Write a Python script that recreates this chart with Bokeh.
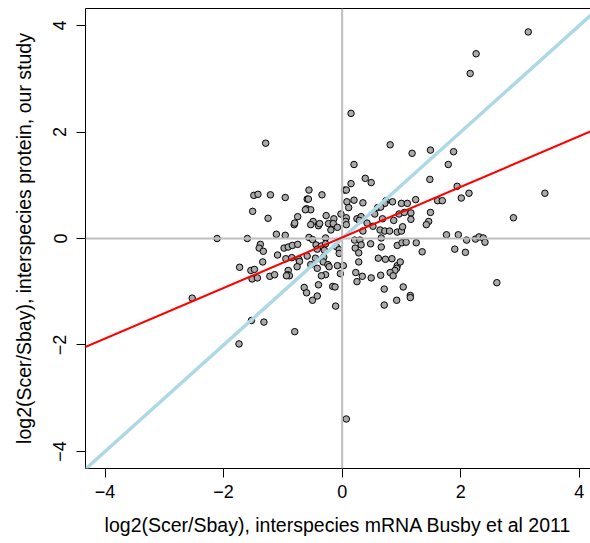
from bokeh.plotting import figure
from bokeh.models import Range1d, Span, Slope, FixedTicker, LinearAxis
from bokeh.embed import file_html
from bokeh.resources import INLINE

# interspecies mRNA log2 ratio (Busby et al 2011) and protein log2 ratio (our study)
mrna = [0.15, 3.14, 2.26, 2.16, 3.42, 2.89, 2.61, 0.07, -2.53, -2.11, -1.74, -1.29,
        -1.49, -1.42, -1.21, -0.96, -1.51, -1.25, -0.81, -0.80, -0.75, -1.60, -1.11, -0.96,
        -1.38, -1.40, -1.33, -0.98, -0.91, -0.84, -0.75, -1.09, -0.95, -0.85, -1.34, -0.73,
        -0.72, -1.73, -1.54, -1.48, -0.76, -0.91, -0.92, -0.89, -0.94, -1.52, -1.43, -1.22,
        -1.14, -1.53, -1.32, -0.80,
        -0.56, -0.50, -0.28, -0.44, -0.35, -0.28, -0.10, -0.05, -0.42, -0.30, 0.21, 0.30,
        0.22, 0.28, 0.32, 0.48, 0.66, 0.66, 0.93, 1.01, -0.59, -0.45, -0.31, -0.05,
        -0.32, -0.24, -0.22, -0.53, -0.42, -0.08, 0.02, 0.28, 0.61, 0.73, 0.84, 0.93,
        0.92, 0.89, 0.81, 0.86, -0.28, -0.35, -0.03, 0.23, 0.34, 0.49, 0.65, 0.25,
        1.03, -0.64, -0.60, -0.40, -0.16, -0.12, -0.42, -0.50, 0.71, 0.92, 0.71, -0.11,
        0.81, 0.20, 0.39, 0.49, 0.15, -0.56, 0.04, 0.07, -0.34, -0.59, -0.57, 0.08,
        0.20, 0.35, 0.74, 0.85, 1.00, 0.72, 0.11, 0.60, 0.65, -0.60, -0.53, -0.62,
        -0.27, -0.14, -0.02, 0.07, 0.25, 0.32, 0.55, 0.96, 1.05, -0.49, -0.40, -0.38,
        -0.23, -0.15, 0.06, 0.29, 0.42, 0.68, 0.87, -0.53, -0.19, -0.08, 0.07, 0.52,
        0.64, 0.72, 0.80, 0.93, 1.00, 0.35,
        1.18, 1.49, 1.88, 1.79, 1.48, 1.94, 2.14, 2.01, 1.61, 1.69, 1.24, 1.10,
        1.16, 1.16, 1.49, 1.46, 1.42, 1.02, 1.76, 1.96, 2.10, 2.25, 2.31, 2.38,
        2.41, 1.08, 1.25, 1.35, 1.90, 2.08, 0.98, 1.15, 1.15]
protein = [2.35, 3.88, 3.47, 3.10, 0.85, 0.39, -0.83, -3.39, -1.12, 0.00, -1.98, 1.79,
           0.81, 0.83, 0.82, 0.77, 0.51, 0.38, 0.26, 0.29, 0.41, 0.00, 0.08, 0.06,
           -0.11, -0.18, -0.24, -0.18, -0.16, -0.13, -0.11, -0.31, -0.38, -0.36, -0.44, -0.39,
           -0.43, -0.54, -0.60, -0.58, -0.53, -0.60, -0.68, -0.70, -0.70, -0.76, -0.74, -0.71,
           -0.68, -1.54, -1.57, -1.75,
           0.02, -0.02, 0.01, -0.12, -0.14, -0.10, -0.15, -0.21, -0.20, -0.22, -0.03, -0.03,
           -0.18, -0.27, -0.12, -0.10, 0.01, -0.16, -0.13, -0.08, -0.33, -0.37, -0.35, -0.28,
           -0.44, -0.49, -0.53, -0.49, -0.56, -0.51, -0.51, -0.44, -0.37, -0.39, -0.38, -0.51,
           -0.56, -0.60, -0.64, -0.70, -0.68, -0.70, -0.66, -0.64, -0.71, -0.74, -0.69, -0.81,
           -0.91, -0.92, -1.02, -0.87, -0.90, -0.91, -1.08, -1.16, -0.95, -1.16, -1.25, -1.27,
           1.76, 1.39, 1.13, 1.05, 1.03, 0.91, 0.91, 0.91, 0.82, 0.74, 0.74, 0.69,
           0.72, 0.67, 0.71, 0.69, 0.66, 0.66, 0.58, 0.58, 0.59, 0.56, 0.54, 0.54,
           0.43, 0.37, 0.46, 0.39, 0.37, 0.41, 0.46, 0.46, 0.49, 0.32, 0.24, 0.28,
           0.28, 0.28, 0.32, 0.34, 0.29, 0.37, 0.34, 0.26, 0.16, 0.21, 0.26, 0.23,
           0.16, 0.14, 0.14, 0.12, 0.14, 0.14,
           1.60, 1.66, 1.63, 1.39, 1.11, 0.98, 0.85, 0.76, 0.71, 0.71, 0.73, 0.66,
           0.48, 0.36, 0.49, 0.32, 0.26, 0.22, 0.07, 0.07, -0.03, -0.01, 0.03, 0.01,
           -0.07, -0.07, -0.08, -0.25, -0.20, -0.26, -0.44, -1.07, -1.11]

# fitted regression line (protein ~ mRNA)
fit_intercept = 0.02
fit_slope = 0.475

x_ticks = [-4, -2, 0, 2, 4]
y_ticks = [-4, -2, 0, 2, 4]
tick_labels = {-4: "\u22124", -2: "\u22122", 0: "0", 2: "2", 4: "4"}

FONT = "Liberation Sans"

p = figure(width=590, height=543, output_backend="svg", toolbar_location=None,
           x_range=Range1d(-4.33, 4.19), y_range=Range1d(-4.32, 4.32),
           min_border_left=85, min_border_right=0, min_border_top=8, min_border_bottom=75,
           x_axis_label="log2(Scer/Sbay), interspecies mRNA Busby et al 2011",
           y_axis_label="log2(Scer/Sbay), interspecies protein, our study")
p.outline_line_color = None
p.xgrid.visible = False
p.ygrid.visible = False
p.background_fill_color = "white"
p.border_fill_color = "white"

for ax, ticks in ((p.xaxis[0], x_ticks), (p.yaxis[0], y_ticks)):
    ax.ticker = FixedTicker(ticks=ticks)
    ax.major_label_overrides = tick_labels
    ax.minor_tick_line_color = None
    ax.major_tick_in = 0
    ax.major_tick_out = 9
    ax.major_tick_line_color = "black"
    ax.axis_line_color = "black"
    ax.major_label_text_font = FONT
    ax.major_label_text_font_size = "18px"
    ax.major_label_text_color = "black"
    ax.axis_label_text_font = FONT
    ax.axis_label_text_font_size = "19.5px"
    ax.axis_label_text_font_style = "normal"
    ax.axis_label_text_color = "black"

p.xaxis[0].major_label_standoff = 7
p.xaxis[0].axis_label_standoff = 13
p.yaxis[0].major_label_orientation = "vertical"
p.yaxis[0].major_label_standoff = 10
p.yaxis[0].axis_label_standoff = 16

# top border of the box (plot is cropped on the right in the reference)
top = LinearAxis(ticker=FixedTicker(ticks=[]), major_tick_out=0, major_tick_in=0,
                 minor_tick_line_color=None, major_label_text_font_size="0px",
                 major_label_standoff=0, axis_line_color="black")
p.add_layout(top, "above")

p.scatter(mrna, protein, size=6.5, fill_color="#aaaaaa", line_color="black", line_width=1)

p.add_layout(Span(location=0, dimension="width", line_color="#bebebe", line_width=2))
p.add_layout(Span(location=0, dimension="height", line_color="#bebebe", line_width=2))
p.add_layout(Slope(gradient=1, y_intercept=0, line_color="#add8e6", line_width=3.5))
p.add_layout(Slope(gradient=fit_slope, y_intercept=fit_intercept, line_color="#ff0000", line_width=2))

open("out.html", "w").write(file_html(p, INLINE))
